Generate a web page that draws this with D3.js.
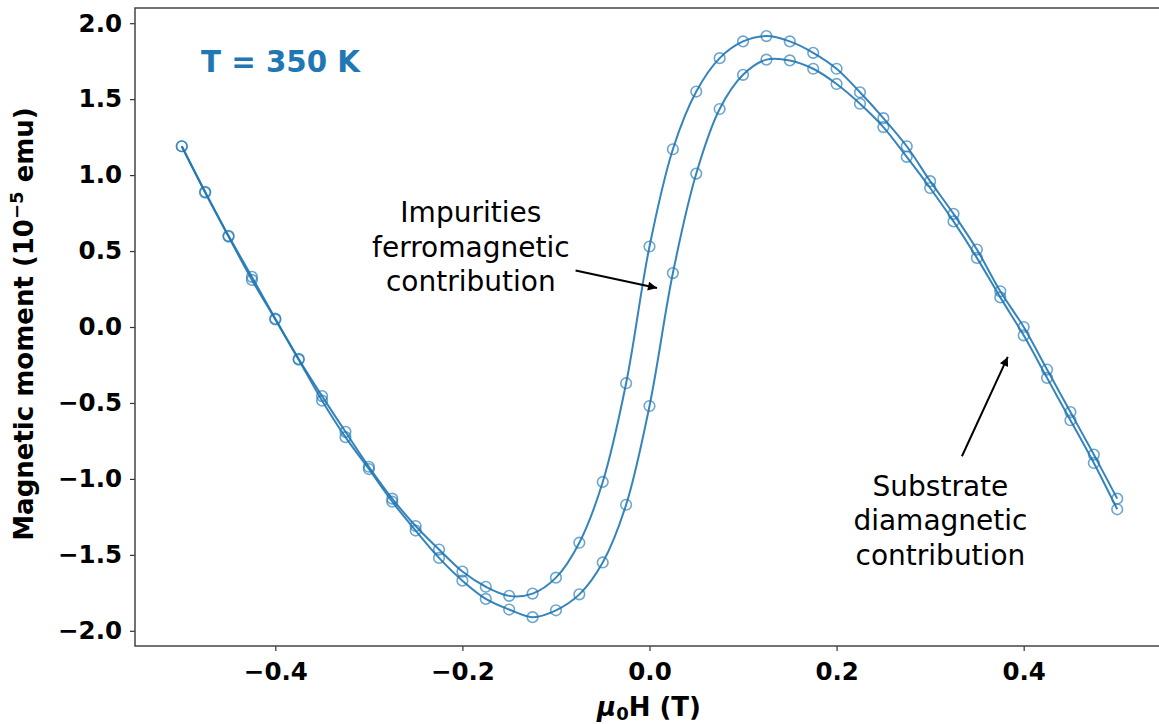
<!DOCTYPE html>
<html>
<head>
<meta charset="utf-8">
<script src="https://cdn.jsdelivr.net/npm/d3@7"></script>
<style>
  body { margin: 0; background: #fff; }
  text { font-family: "DejaVu Sans", sans-serif; }
</style>
</head>
<body>
<div id="chart"></div>
<script>
// field values (T), step 0.025
const fieldValues = d3.range(41).map(i => -0.5 + i * 0.025);

// descending branch (upper loop), 10^-5 emu
const momentDown = [1.19, 0.89, 0.60, 0.33, 0.055, -0.21, -0.455, -0.69, -0.92, -1.13,
  -1.31, -1.465, -1.61, -1.71, -1.77, -1.755, -1.65, -1.42, -1.02, -0.37,
  0.53, 1.17, 1.55, 1.77, 1.88, 1.915, 1.88, 1.805, 1.70, 1.545,
  1.375, 1.19, 0.96, 0.745, 0.51, 0.235, 0.0, -0.28, -0.56, -0.84, -1.13];

// ascending branch (lower loop)
const momentUp = [1.19, 0.885, 0.595, 0.31, 0.05, -0.215, -0.485, -0.725, -0.935, -1.15,
  -1.34, -1.52, -1.67, -1.79, -1.86, -1.91, -1.865, -1.76, -1.55, -1.17,
  -0.52, 0.355, 1.01, 1.435, 1.66, 1.76, 1.755, 1.70, 1.60, 1.47,
  1.316, 1.12, 0.915, 0.695, 0.455, 0.195, -0.055, -0.335, -0.614, -0.895, -1.20];

const xTicks = [-0.4, -0.2, 0.0, 0.2, 0.4];
const yTicks = [-2.0, -1.5, -1.0, -0.5, 0.0, 0.5, 1.0, 1.5, 2.0];

const annotations = [
  { lines: ["Impurities", "ferromagnetic", "contribution"], tx: -0.191, ty: 0.69, from: [-0.079, 0.372], to: [0.008, 0.257] },
  { lines: ["Substrate", "diamagnetic", "contribution"], tx: 0.311, ty: -1.11, from: [0.334, -0.851], to: [0.383, -0.197] }
];

const width = 1159, height = 724;
const color = "#1f77b4";

const svg = d3.select("#chart").append("svg")
  .attr("width", width)
  .attr("height", height);

const x = d3.scaleLinear().domain([-0.55, 0.55]).range([135, 1164]);
const y = d3.scaleLinear().domain([-2.1, 2.1]).range([646, 8]);

const fmt = v => d3.format(".1f")(v).replace("-", "\u2212");

// axes
const xAxis = svg.append("g")
  .attr("transform", `translate(0,${y.range()[0]})`)
  .call(d3.axisBottom(x).tickValues(xTicks).tickFormat(fmt).tickSize(5).tickPadding(8));
const yAxis = svg.append("g")
  .attr("transform", `translate(${x.range()[0]},0)`)
  .call(d3.axisLeft(y).tickValues(yTicks).tickFormat(fmt).tickSize(5).tickPadding(8));

[xAxis, yAxis].forEach(g => {
  g.selectAll("text").attr("font-size", 24.5).attr("font-weight", "bold").attr("fill", "#000")
    .attr("font-family", "DejaVu Sans");
  g.selectAll("line").attr("stroke", "#333").attr("stroke-width", 1.2);
  g.select(".domain").remove();
});
xAxis.selectAll("text").attr("dy", "0.85em");

// frame
svg.append("rect")
  .attr("x", x.range()[0]).attr("y", y.range()[1])
  .attr("width", x.range()[1] - x.range()[0])
  .attr("height", y.range()[0] - y.range()[1])
  .attr("fill", "none").attr("stroke", "#444").attr("stroke-width", 1.5);

// curves
const line = d3.line()
  .x(d => x(d[0]))
  .y(d => y(d[1]))
  .curve(d3.curveCatmullRom.alpha(0.5));

const branches = [momentDown, momentUp].map(vals => fieldValues.map((f, i) => [f, vals[i]]));

branches.forEach(pts => {
  svg.append("path")
    .attr("d", line(pts))
    .attr("fill", "none")
    .attr("stroke", color)
    .attr("stroke-width", 2)
    .attr("stroke-opacity", 0.9);

  svg.append("g").selectAll("circle")
    .data(pts)
    .enter()
    .append("circle")
    .attr("cx", d => x(d[0]))
    .attr("cy", d => y(d[1]))
    .attr("r", 5.3)
    .attr("fill", "none")
    .attr("stroke", color)
    .attr("stroke-width", 1.6)
    .attr("stroke-opacity", 0.65);
});

// arrowheads
svg.append("defs").append("marker")
  .attr("id", "head")
  .attr("viewBox", "0 0 10 10")
  .attr("refX", 10).attr("refY", 5)
  .attr("markerWidth", 12).attr("markerHeight", 9)
  .attr("markerUnits", "userSpaceOnUse")
  .attr("orient", "auto")
  .append("path")
  .attr("d", "M0,0 L10,5 L0,10 Z")
  .attr("fill", "#000");

annotations.forEach(a => {
  svg.append("line")
    .attr("x1", x(a.from[0])).attr("y1", y(a.from[1]))
    .attr("x2", x(a.to[0])).attr("y2", y(a.to[1]))
    .attr("stroke", "#000").attr("stroke-width", 2)
    .attr("marker-end", "url(#head)");

  const t = svg.append("text")
    .attr("x", x(a.tx)).attr("y", y(a.ty))
    .attr("text-anchor", "middle")
    .attr("font-size", 28)
    .attr("fill", "#000");
  a.lines.forEach((s, i) => {
    t.append("tspan").attr("x", x(a.tx)).attr("dy", i === 0 ? 0 : 34.5).text(s);
  });
});

// temperature label
svg.append("text")
  .attr("x", 201).attr("y", 72)
  .attr("font-size", 29.3).attr("font-weight", "bold")
  .attr("fill", color)
  .text("T = 350 K");

// axis titles
const yTitle = svg.append("text")
  .attr("transform", `translate(33,${(y.range()[0] + y.range()[1]) / 2 - 3}) rotate(-90)`)
  .attr("text-anchor", "middle")
  .attr("font-size", 26).attr("font-weight", "bold")
  .attr("fill", "#000")
  .attr("xml:space", "preserve");
yTitle.append("tspan").text("Magnetic moment (10");
yTitle.append("tspan").attr("font-size", 18).attr("dy", -10).text("\u22125");
yTitle.append("tspan").attr("dy", 10).text("\u00a0emu)");

const xTitle = svg.append("text")
  .attr("x", 649).attr("y", 716)
  .attr("text-anchor", "middle")
  .attr("font-size", 26).attr("font-weight", "bold")
  .attr("fill", "#000");
xTitle.append("tspan").attr("font-style", "italic").text("\u03bc");
xTitle.append("tspan").attr("font-size", 18).attr("dy", 4).text("0");
xTitle.append("tspan").attr("dy", -4).text("H (T)");
</script>
</body>
</html>
